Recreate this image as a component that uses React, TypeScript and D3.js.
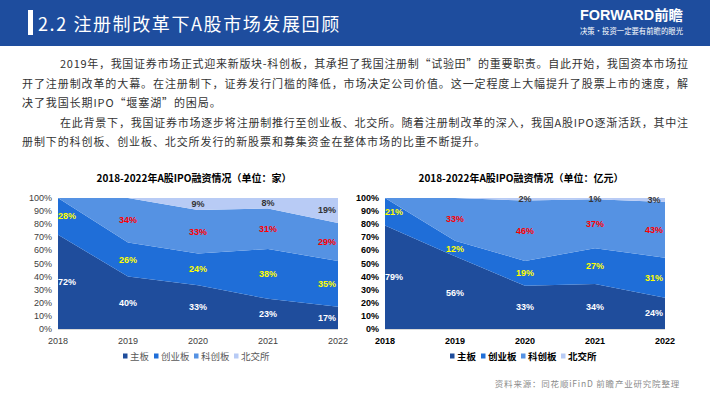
import React, { useEffect } from "react";
import * as d3 from "d3";

const years = [2018, 2019, 2020, 2021, 2022];
const seriesNames = ["主板", "创业板", "科创板", "北交所"];

// IPO count share (%)
const countMain = [72, 40, 33, 23, 17];
const countGem = [28, 26, 24, 38, 35];
const countStar = [0, 34, 33, 31, 29];
const countBse = [0, 0, 9, 8, 19];

// IPO funds share (%)
const fundMain = [79, 56, 33, 34, 24];
const fundGem = [21, 12, 19, 27, 31];
const fundStar = [0, 33, 46, 37, 43];
const fundBse = [0, 0, 2, 1, 3];

const yTicks = [0, 10, 20, 30, 40, 50, 60, 70, 80, 90, 100];

const titleLeft = "2018-2022年A股IPO融资情况（单位：家）";
const titleRight = "2018-2022年A股IPO融资情况（单位：亿元）";
const headerTitle = "2.2 注册制改革下A股市场发展回顾";
const paragraph = [
  "2019年，我国证券市场正式迎来新版块-科创板，其承担了我国注册制“试验田”的重要职责。自此开始，我国资本市场拉",
  "开了注册制改革的大幕。在注册制下，证券发行门槛的降低，市场决定公司价值。这一定程度上大幅提升了股票上市的速度，解",
  "决了我国长期IPO“堰塞湖”的困局。",
  "在此背景下，我国证券市场逐步将注册制推行至创业板、北交所。随着注册制改革的深入，我国A股IPO逐渐活跃，其中注",
  "册制下的科创板、创业板、北交所发行的新股票和募集资金在整体市场的比重不断提升。",
];
const sourceText = "资料来源：同花顺iFinD 前瞻产业研究院整理";

const COLORS = ["#1f4d9c", "#1f6ed8", "#5592e3", "#b8cbf5"];
const LABEL_COLORS = ["#ffffff", "#ffff00", "#ff0000", "#333333"];
const LATIN = '"Liberation Sans", Arial, "Noto Sans CJK SC", sans-serif';
const CJK = '"Noto Sans CJK SC", sans-serif';

type ChartProps = {
  x0: number;
  x1: number;
  top: number;
  bottom: number;
  title: string;
  series: number[][];
  bold: boolean;
  legendX: number;
};

function StackChart({ x0, x1, top, bottom, title, series, bold, legendX }: ChartProps) {
  const x = d3.scalePoint<number>().domain(years).range([x0, x1]);
  const y = d3.scaleLinear().domain([0, 1]).range([bottom, top]);
  const rows = years.map((yr, i) => {
    const r: any = { year: yr };
    seriesNames.forEach((k, j) => (r[k] = series[j][i]));
    return r;
  });
  const stacked = d3.stack<any>().keys(seriesNames).offset(d3.stackOffsetExpand)(rows);
  const area = d3
    .area<any>()
    .x((d) => x(d.data.year) as number)
    .y0((d) => y(d[0]))
    .y1((d) => y(d[1]));
  const axisColor = bold ? "#000" : "#404040";
  const weight = bold ? "bold" : "normal";
  const legendSteps = [0, 31, 71, 111];
  return (
    <g>
      <text
        x={(x0 + x1) / 2 - 4}
        y={177}
        textAnchor="middle"
        dominantBaseline="central"
        fontFamily={CJK}
        fontWeight="bold"
        fontSize={10}
        fill="#000"
      >
        {title}
      </text>
      {stacked.map((s, j) => (
        <path key={j} d={area(s) as string} fill={COLORS[j]} />
      ))}
      <line x1={x0} x2={x1} y1={bottom + 0.5} y2={bottom + 0.5} stroke="#d9d9d9" />
      {yTicks.map((t) => (
        <text
          key={t}
          x={x0 - 6}
          y={y(t / 100)}
          textAnchor="end"
          dominantBaseline="central"
          fontFamily={LATIN}
          fontSize={9}
          fontWeight={weight}
          fill={axisColor}
        >
          {t}%
        </text>
      ))}
      {years.map((yr) => (
        <text
          key={yr}
          x={x(yr)}
          y={bottom + 12}
          textAnchor="middle"
          dominantBaseline="central"
          fontFamily={LATIN}
          fontSize={9}
          fontWeight={weight}
          fill={axisColor}
        >
          {yr}
        </text>
      ))}
      {stacked.map((s, j) =>
        s.map((d, i) => {
          const v = series[j][i];
          if (!v) return null;
          let cx = x(years[i]) as number;
          if (i === 0) cx += 9;
          if (i === years.length - 1) cx -= 11;
          return (
            <text
              key={`${j}-${i}`}
              x={cx}
              y={y((d[0] + d[1]) / 2)}
              textAnchor="middle"
              dominantBaseline="central"
              fontFamily={LATIN}
              fontWeight="bold"
              fontSize={9}
              fill={LABEL_COLORS[j]}
            >
              {v}%
            </text>
          );
        })
      )}
      {seriesNames.map((n, j) => (
        <g key={n} transform={`translate(${legendX + legendSteps[j]},356)`}>
          <rect x={0} y={-2.5} width={4.5} height={5} fill={COLORS[j]} />
          <text
            x={7}
            y={0}
            dominantBaseline="central"
            fontFamily={CJK}
            fontSize={9.5}
            fontWeight={weight}
            fill={bold ? "#000" : "#595959"}
          >
            {n}
          </text>
        </g>
      ))}
    </g>
  );
}

export default function App() {
  useEffect(() => {
    document.body.style.margin = "0";
  }, []);
  const lineY = [63, 83, 102, 122, 141];
  const lineX = [60, 22, 22, 60, 22];
  const justify = [true, true, false, true, false];
  return (
    <svg
      width={710}
      height={399}
      style={{ display: "block", position: "absolute", left: 0, top: 0 }}
      xmlns="http://www.w3.org/2000/svg"
    >
      <rect x={0} y={0} width={710} height={399} fill="#ffffff" />
      <rect x={0} y={0} width={710} height={46} fill="#1e4d9e" />
      <rect x={28} y={10} width={5} height={25} fill="#ffffff" />
      <text
        x={38}
        y={23}
        dominantBaseline="central"
        fontFamily={CJK}
        fontSize={18}
        fill="#ffffff"
        letterSpacing={1.6}
      >
        {headerTitle}
      </text>
      <text
        x={580}
        y={15}
        dominantBaseline="central"
        fontFamily={LATIN}
        fontSize={14}
        fontWeight="bold"
        fill="#ffffff"
        textLength={103}
        lengthAdjust="spacingAndGlyphs"
      >
        FORWARD前瞻
      </text>
      <text
        x={580}
        y={30}
        dominantBaseline="central"
        fontFamily={CJK}
        fontSize={7.5}
        fill="#ffffff"
        textLength={103}
        lengthAdjust="spacingAndGlyphs"
      >
        决策·投资一定要有前瞻的眼光
      </text>
      {paragraph.map((p, i) => (
        <text
          key={i}
          x={lineX[i]}
          y={lineY[i]}
          dominantBaseline="central"
          fontFamily={CJK}
          fontSize={11}
          fill="#333333"
          letterSpacing={justify[i] ? 0 : 0.9}
          textLength={justify[i] ? 688 - lineX[i] : undefined}
          lengthAdjust="spacing"
        >
          {p}
        </text>
      ))}
      <StackChart
        x0={58}
        x1={338}
        top={198}
        bottom={329}
        title={titleLeft}
        series={[countMain, countGem, countStar, countBse]}
        bold={false}
        legendX={123}
      />
      <StackChart
        x0={385}
        x1={665}
        top={198}
        bottom={329}
        title={titleRight}
        series={[fundMain, fundGem, fundStar, fundBse]}
        bold={true}
        legendX={450}
      />
      <text
        x={680}
        y={383}
        textAnchor="end"
        dominantBaseline="central"
        fontFamily={CJK}
        fontSize={8.5}
        fill="#8c8c8c"
        letterSpacing={0.8}
      >
        {sourceText}
      </text>
    </svg>
  );
}
